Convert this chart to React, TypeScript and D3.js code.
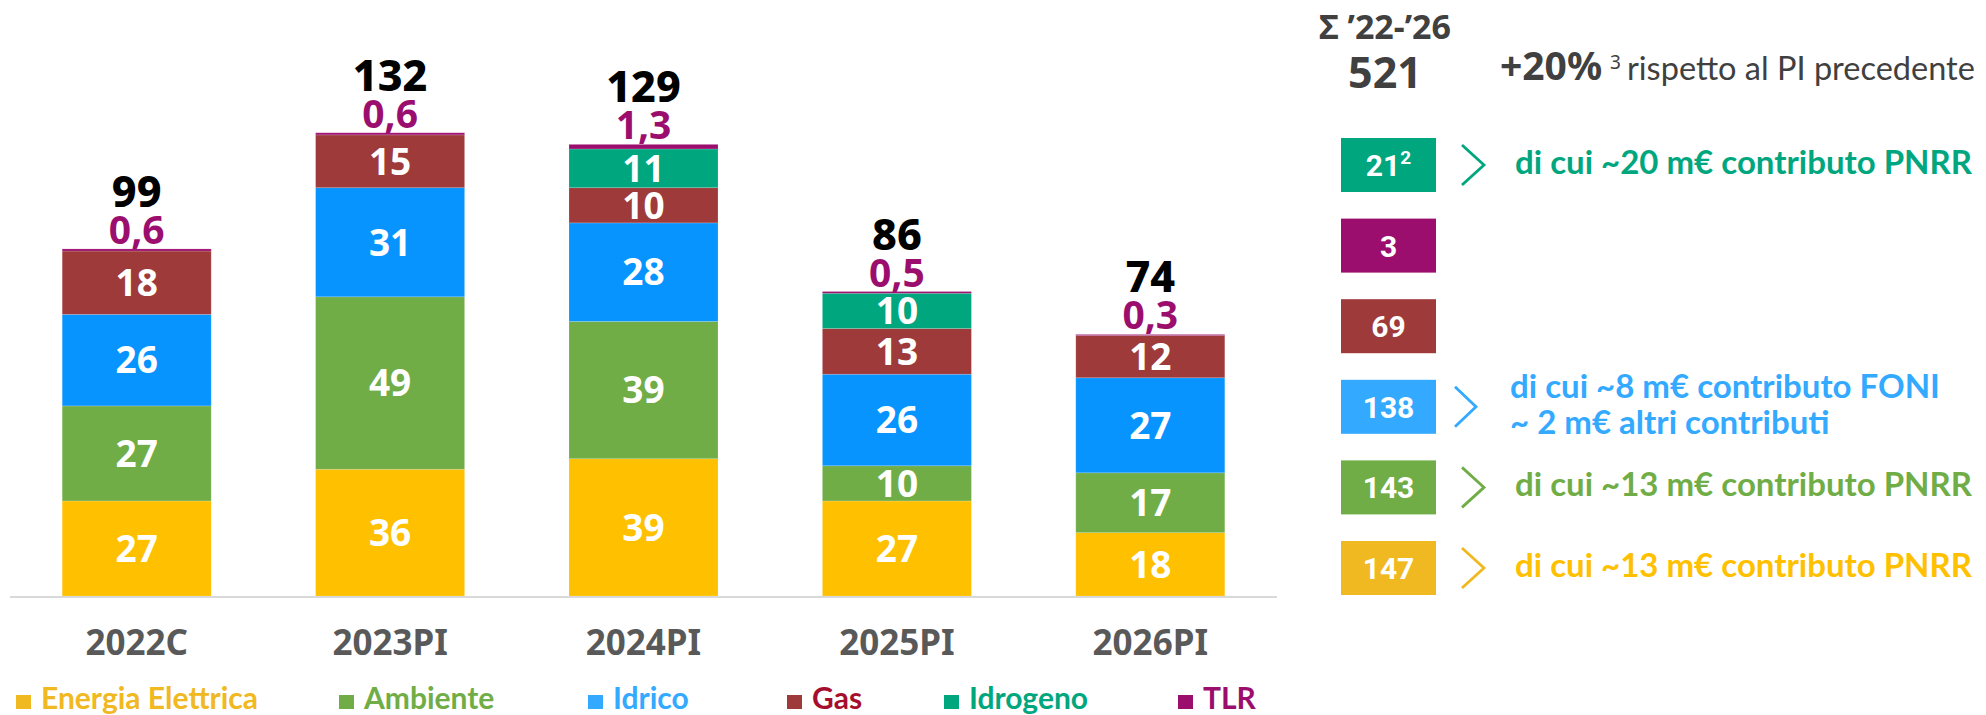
import React from 'react';
import * as d3 from 'd3';

// investment by business line (m€)
const years = ['2022C', '2023PI', '2024PI', '2025PI', '2026PI'];
const energia = [27, 36, 39, 27, 18];
const ambiente = [27, 49, 39, 10, 17];
const idrico = [26, 31, 28, 26, 27];
const gas = [18, 15, 10, 13, 12];
const idrogeno = [0, 0, 11, 10, 0];
const tlr = [0.6, 0.6, 1.3, 0.5, 0.3];
const totals = ['99', '132', '129', '86', '74'];
const tlrLabels = ['0,6', '0,6', '1,3', '0,5', '0,3'];

const keys = ['energia', 'ambiente', 'idrico', 'gas', 'idrogeno', 'tlr'];
const legendNames = ['Energia Elettrica', 'Ambiente', 'Idrico', 'Gas', 'Idrogeno', 'TLR'];
const barColors = ['#FFC000', '#70AD47', '#0894FF', '#9E3A3A', '#00A67E', '#9B0E6E'];
const legendSquare = ['#F0B821', '#70AD47', '#33A9FF', '#9E3A3A', '#00A67E', '#9B0E6E'];
const legendText = ['#F0B821', '#70AD47', '#33A9FF', '#A50F2D', '#00A67E', '#9B0E6E'];
const legendX = [16, 339, 588, 787, 944, 1178];

// right side summary 2022-26
const sumTitle = 'Σ ’22-’26';
const sumTotal = '521';
const sumDelta = '+20%';
const sumDeltaNote = 'rispetto al PI precedente';
const sumValues = ['21', '3', '69', '138', '143', '147'];
const sumSup = ['2', '', '', '', '', ''];
const sumColors = ['#00A67E', '#9B0E6E', '#9E3A3A', '#33A9FF', '#70AD47', '#F0B821'];
const sumNotes = [
  ['di cui ~20 m€ contributo PNRR'],
  [],
  [],
  ['di cui ~8 m€ contributo FONI', '~ 2 m€ altri contributi'],
  ['di cui ~13 m€ contributo PNRR'],
  ['di cui ~13 m€ contributo PNRR'],
];
const noteColors = ['#00A67E', '', '', '#33A9FF', '#70AD47', '#FFC000'];

const NUM = "'Noto Sans', sans-serif";
const TXT = "Lato, 'Noto Sans', sans-serif";

export default function App() {
  const W = 1986;
  const H = 715;

  const rows = years.map((yr, i) => ({
    year: yr,
    energia: energia[i],
    ambiente: ambiente[i],
    idrico: idrico[i],
    gas: gas[i],
    idrogeno: idrogeno[i],
    tlr: tlr[i],
  }));

  const x = d3.scaleBand().domain(years).range([10, 1277]).paddingInner(0.412).paddingOuter(0.206);
  const y = d3.scaleLinear().domain([0, 150]).range([596, 68]);
  const series = d3.stack<any>().keys(keys)(rows);

  const boxY = d3.scaleLinear().domain([0, 5]).range([138, 541]);

  return (
    <div style={{ position: 'absolute', left: 0, top: 0 }}>
      <svg width={W} height={H} style={{ display: 'block', background: '#fff' }}>
        {/* bars */}
        {series.map((s, si) => (
          <g key={s.key}>
            {s.map((d, i) => (
              <rect
                key={i}
                x={x(years[i])}
                y={y(d[1])}
                width={x.bandwidth()}
                height={Math.max(0, y(d[0]) - y(d[1]))}
                fill={barColors[si]}
                stroke="#fff"
                strokeOpacity={0.2}
                strokeWidth={0.8}
              />
            ))}
          </g>
        ))}

        {/* segment labels */}
        {series.slice(0, 5).map((s) =>
          s.map((d, i) => {
            const v = d[1] - d[0];
            if (v <= 0) return null;
            return (
              <text
                key={s.key + i}
                x={(x(years[i]) as number) + x.bandwidth() / 2}
                y={(y(d[0]) + y(d[1])) / 2}
                dy="0.36em"
                textAnchor="middle"
                fill="#fff"
                fontFamily={NUM}
                fontWeight={700}
                fontSize={37}
              >
                {Math.round(v)}
              </text>
            );
          })
        )}

        {/* TLR + totals above bars */}
        {series[5].map((d, i) => {
          const cx = (x(years[i]) as number) + x.bandwidth() / 2;
          const top = y(d[1]);
          return (
            <g key={'t' + i}>
              <text x={cx} y={top - 5} textAnchor="middle" fill="#9B0E6E" fontFamily={NUM} fontWeight={700} fontSize={39}>
                {tlrLabels[i]}
              </text>
              <text x={cx} y={top - 42} textAnchor="middle" fill="#000" fontFamily={NUM} fontWeight={800} fontSize={43}>
                {totals[i]}
              </text>
            </g>
          );
        })}

        {/* axis */}
        <line x1={10} x2={1277} y1={597} y2={597} stroke="#D9D9D9" strokeWidth={2} />
        {years.map((yr) => (
          <text
            key={yr}
            x={(x(yr) as number) + x.bandwidth() / 2}
            y={655}
            textAnchor="middle"
            fill="#595959"
            fontFamily={NUM}
            fontWeight={700}
            fontSize={35}
          >
            {yr}
          </text>
        ))}

        {/* legend */}
        {legendNames.map((n, i) => (
          <g key={n}>
            <rect x={legendX[i]} y={695} width={15} height={14} fill={legendSquare[i]} />
            <text x={legendX[i] + 25} y={709} fill={legendText[i]} fontFamily={TXT} fontWeight={700} fontSize={30}>
              {n}
            </text>
          </g>
        ))}

        {/* summary panel */}
        <text x={1385} y={39} textAnchor="middle" fill="#404040" fontFamily={NUM} fontWeight={700} fontSize={34}>
          {sumTitle}
        </text>
        <text x={1385} y={88} textAnchor="middle" fill="#404040" fontFamily={NUM} fontWeight={700} fontSize={43}>
          {sumTotal}
        </text>
        <text x={1500} y={80} fill="#404040" fontFamily={NUM}>
          <tspan fontWeight={700} fontSize={39}>{sumDelta}</tspan>
          <tspan fontSize={19} dx={8} dy={-11}>3</tspan>
          <tspan fontFamily={TXT} fontSize={32.5} dx={6} dy={11}>{sumDeltaNote}</tspan>
        </text>

        {sumValues.map((v, i) => {
          const top = boxY(i);
          const cy = top + 27;
          return (
            <g key={'b' + i}>
              <rect x={1341} y={top} width={95} height={54} fill={sumColors[i]} />
              <text x={1388.5} y={cy + 11} textAnchor="middle" fill="#fff" fontFamily="Roboto, sans-serif" fontWeight={700} fontSize={30}>
                {v}
                {sumSup[i] && (
                  <tspan fontSize={19} dy={-12}>{sumSup[i]}</tspan>
                )}
              </text>
              {sumNotes[i].length > 0 && (
                <path
                  d={`M${i === 3 ? 1455 : 1462},${cy - 20} L${i === 3 ? 1476 : 1484},${cy} L${i === 3 ? 1455 : 1462},${cy + 20}`}
                  fill="none"
                  stroke={sumColors[i]}
                  strokeWidth={2.8}
                />
              )}
              {sumNotes[i].map((t, j) => (
                <text
                  key={j}
                  x={i === 3 ? 1510 : 1515}
                  y={sumNotes[i].length > 1 ? cy - 9 + j * 36 : cy + 9}
                  fill={noteColors[i]}
                  fontFamily={TXT}
                  fontWeight={700}
                  fontSize={33}
                >
                  {t}
                </text>
              ))}
            </g>
          );
        })}
      </svg>
    </div>
  );
}
